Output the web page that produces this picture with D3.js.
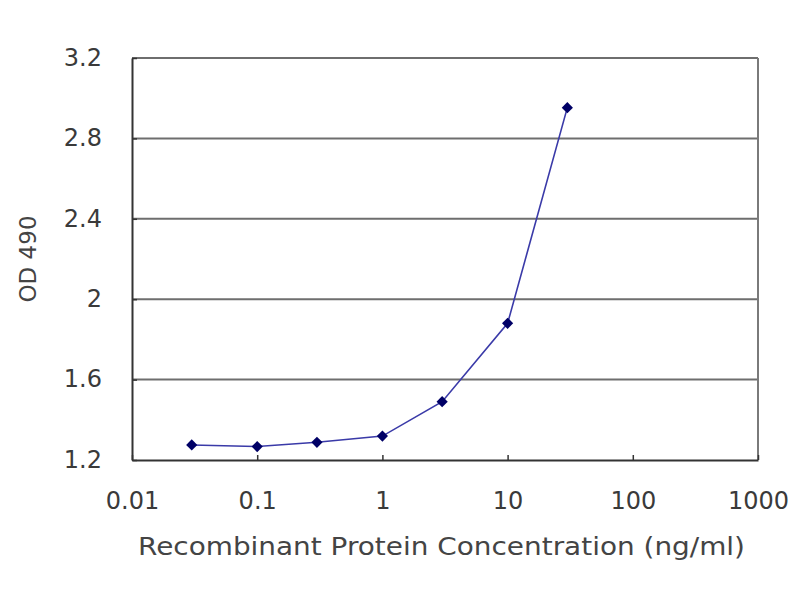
<!DOCTYPE html>
<html><head><meta charset="utf-8">
<script src="https://cdn.jsdelivr.net/npm/d3@7"></script>
<style>body{margin:0;background:#fff}svg{display:block}</style>
</head><body>
<svg id="c" width="800" height="600"></svg>
<script>
const concentrations = [0.03, 0.1, 0.3, 1, 3, 10, 30];
const odValues = [1.275, 1.267, 1.288, 1.319, 1.49, 1.88, 2.953];
const xTicks = [0.01, 0.1, 1, 10, 100, 1000];
const xTickLabels = ["0.01", "0.1", "1", "10", "100", "1000"];
const yTicks = [1.2, 1.6, 2, 2.4, 2.8, 3.2];
const yTickLabels = ["1.2", "1.6", "2", "2.4", "2.8", "3.2"];

const svg = d3.select("#c");
const L = 132, R = 758, T = 58, B = 460;
const x = d3.scaleLog().domain([0.01, 1000]).range([L, R]);
const y = d3.scaleLinear().domain([1.2, 3.2]).range([B, T]);
const font = "'DejaVu Sans', Verdana, sans-serif";

// gridlines
svg.append("g").selectAll("line").data(yTicks.slice(1)).join("line")
  .attr("x1", L).attr("x2", R).attr("y1", d => y(d)).attr("y2", d => y(d))
  .attr("stroke", "#6e6e6e").attr("stroke-width", 2);
// right border
svg.append("line").attr("x1", R).attr("x2", R).attr("y1", T).attr("y2", B)
  .attr("stroke", "#7a7a7a").attr("stroke-width", 2);

// axes
const yAxis = d3.axisLeft(y).tickValues(yTicks).tickFormat((d, i) => yTickLabels[i]).tickSizeInner(-5).tickSizeOuter(0).tickPadding(30);
const gy = svg.append("g").attr("transform", `translate(${L},0)`).call(yAxis);
gy.select(".domain").attr("stroke", "#333").attr("stroke-width", 2);
gy.selectAll(".tick line").attr("stroke", "#333").attr("stroke-width", 1.5);
gy.selectAll("text").attr("font-family", font).attr("font-size", 24).attr("fill", "#3a3a3a").attr("dy", "0.3em");

const xAxis = d3.axisBottom(x).tickValues(xTicks).tickFormat((d, i) => xTickLabels[i]).tickSizeInner(-5).tickSizeOuter(0).tickPadding(32);
const gx = svg.append("g").attr("transform", `translate(0,${B})`).call(xAxis);
gx.select(".domain").attr("stroke", "#333").attr("stroke-width", 2);
gx.selectAll(".tick line").attr("stroke", "#333").attr("stroke-width", 1.5);
gx.selectAll("text").attr("font-family", font).attr("font-size", 24).attr("fill", "#3a3a3a");

// titles
svg.append("text").attr("x", 138).attr("y", 555)
  .attr("font-family", font).attr("font-size", 24).attr("fill", "#444")
  .attr("textLength", 607).attr("lengthAdjust", "spacingAndGlyphs")
  .text("Recombinant Protein Concentration (ng/ml)");
svg.append("text").attr("transform", "translate(36,259) rotate(-90)").attr("text-anchor", "middle")
  .attr("font-family", font).attr("font-size", 23).attr("fill", "#444").text("OD 490");

// series
const data = concentrations.map((c, i) => ({c, v: odValues[i]}));
const line = d3.line().x(d => x(d.c)).y(d => y(d.v));
svg.append("path").datum(data).attr("d", line).attr("fill", "none")
  .attr("stroke", "#3a3aa8").attr("stroke-width", 1.6);
svg.append("g").selectAll("path").data(data).join("path")
  .attr("d", d3.symbol(d3.symbolDiamond2, 80))
  .attr("transform", d => `translate(${x(d.c)},${y(d.v)})`)
  .attr("fill", "#000066");
</script>
</body></html>
